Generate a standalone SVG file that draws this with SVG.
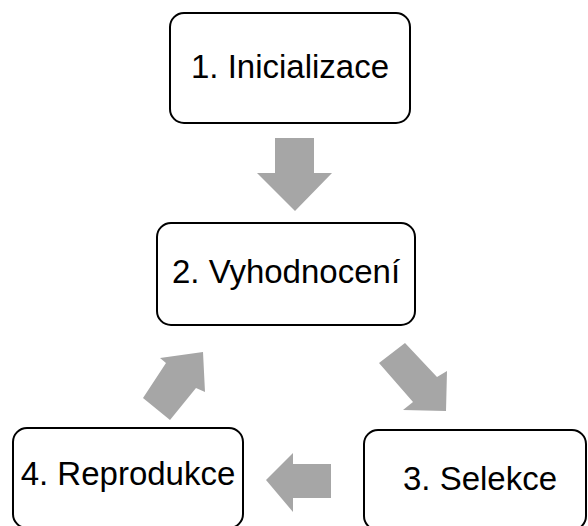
<svg xmlns="http://www.w3.org/2000/svg" width="588" height="526" viewBox="0 0 588 526">
<style>
.box{fill:#ffffff;stroke:#000000;stroke-width:2}
.lbl{font-family:"Liberation Sans",Arial,sans-serif;font-size:33px;fill:#000000;text-anchor:middle}
.arr{fill:#A6A6A6;stroke:none}
</style>
<rect width="588" height="526" fill="#ffffff"/>
<g id="connectors">
<polygon class="arr" points="275,138 314,138 314,173 332,173 295,211 257,173 275,173"/>
<polygon class="arr" points="405,343 379,363 413,402 403,410 446,411 447,371 437,377"/>
<polygon class="arr" points="331,464 331,498 293,498 293,512 266,480 293,453 293,464"/>
<polygon class="arr" points="170,420 143,398 166,363 160,358 203,352 205,392 196,388"/>
</g>
<g id="node1">
<rect class="box" x="170" y="13" width="240" height="110" rx="14"/>
<text class="lbl" x="290" y="78">1. Inicializace</text>
</g>
<g id="node2">
<rect class="box" x="157" y="223" width="258" height="102" rx="14"/>
<text class="lbl" x="286" y="283">2. Vyhodnocení</text>
</g>
<g id="node3">
<rect class="box" x="364" y="430" width="222" height="100" rx="14"/>
<text class="lbl" x="480" y="490">3. Selekce</text>
</g>
<g id="node4">
<rect class="box" x="13" y="428" width="230" height="100" rx="14"/>
<text class="lbl" x="128" y="485">4. Reprodukce</text>
</g>
</svg>
